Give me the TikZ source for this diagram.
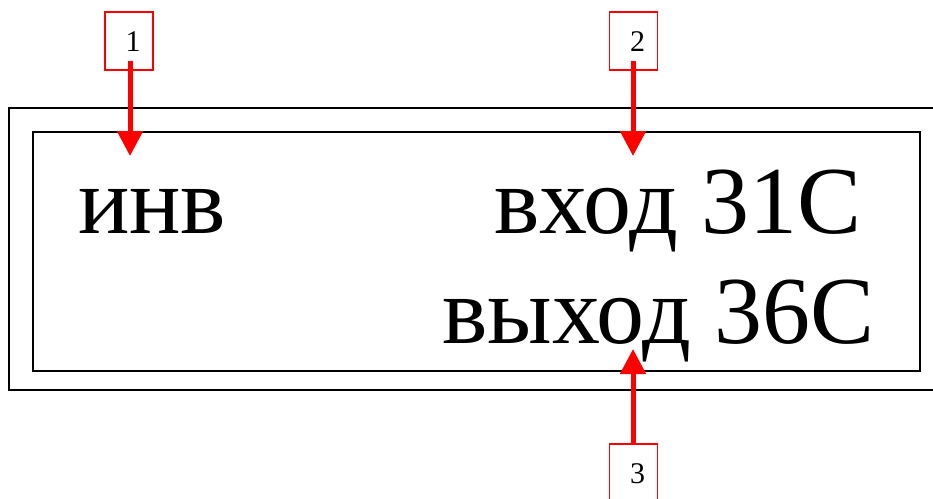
\documentclass[tikz,border=0pt]{standalone}
\usepackage{fontspec}
\setmainfont{Liberation Serif}
\usetikzlibrary{arrows.meta}
\begin{document}
\begin{tikzpicture}[x=1pt,y=-1pt,
  frame/.style={draw=black,line width=1.8pt},
  numbox/.style={draw=red,line width=1.8pt,minimum width=48pt,minimum height=58pt,inner sep=0pt,fill=white},
  numtext/.style={font=\fontsize{30}{30}\selectfont,inner sep=0pt},
  bigtext/.style={font=\fontsize{96}{96}\selectfont,inner sep=0pt},
  redarrow/.style={draw=red,line width=5pt,-{Triangle[width=25pt,length=25pt]},red}]
\useasboundingbox (0,0) rectangle (933,498);
\clip (0,0) rectangle (933,498);
% frames
\draw[frame] (9,108) rectangle (950,390);
\draw[frame] (33,132) rectangle (920,371);
% texts
\node[bigtext,anchor=base west] (inv) at (78,233) {инв};
\node[bigtext,anchor=base east] (vhod) at (862,233) {вход 31C};
\node[bigtext,anchor=base east] (vyhod) at (875,343) {выход 36C};
% number boxes
\node[numbox] (n1) at (129,41) {};
\node[numtext] at (133,42) {1};
\node[numbox] (n2) at (633.5,41) {};
\node[numtext] at (637.5,42) {2};
\node[numbox] (n3) at (633.5,473) {};
\node[numtext] at (637.5,474) {3};
% arrow targets
\coordinate (t1) at (130,156);
\coordinate (t2) at (633,156);
\coordinate (t3) at (633,349);
\draw[redarrow] ([yshift=-20pt]n1.center -| t1) -- (t1);
\draw[redarrow] ([yshift=-20pt]n2.center -| t2) -- (t2);
\draw[redarrow] (n3.north -| t3) -- (t3);
\end{tikzpicture}
\end{document}
